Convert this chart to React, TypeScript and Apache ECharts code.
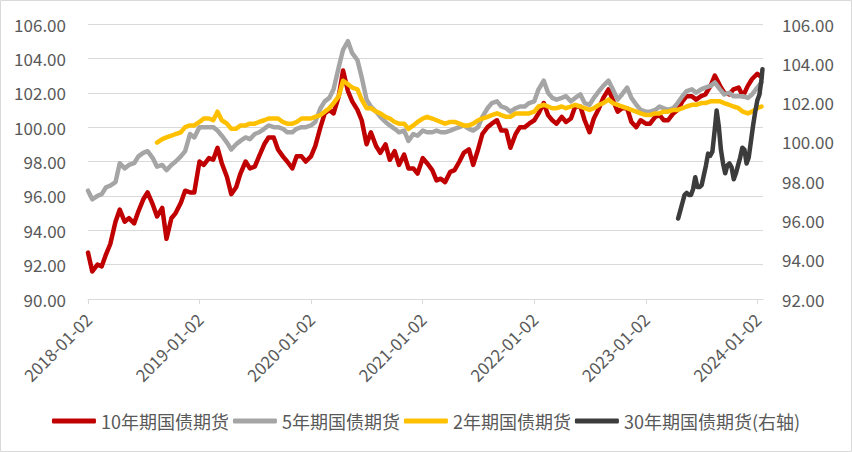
import React, { useEffect, useRef } from "react";
import * as echarts from "echarts";

// Half-monthly observation dates (2nd and 16th of each month), 2018-01 .. 2024-01
const DATES: string[] = (() => {
  const out: string[] = [];
  for (let y = 2018; y <= 2024; y++) {
    for (let m = 1; m <= 12; m++) {
      if (y === 2024 && m > 1) break;
      const mm = String(m).padStart(2, "0");
      out.push(`${y}-${mm}-02`, `${y}-${mm}-16`);
    }
  }
  return out;
})();

const T10: (number | null)[] = [
  92.7, 91.6, 92.0, 91.9, 92.6, 93.2, 94.5, 95.2, 94.5, 94.7, 94.4, 95.1, 95.8, 96.2, 95.5, 94.8, 95.3, 93.5, 94.7, 95.0, 95.6, 96.3, 96.2, 96.2,
  98.0, 97.8, 98.2, 98.1, 98.8, 97.9, 97.1, 96.1, 96.5, 97.3, 98.0, 97.6, 97.7, 98.3, 99.0, 99.4, 99.4, 98.7, 98.3, 98.0, 97.6, 98.3, 98.3, 98.0,
  98.3, 98.9, 100.0, 100.8, 101.0, 100.8, 101.8, 103.3, 102.1, 101.5, 101.0, 100.4, 99.0, 99.7, 98.9, 98.5, 99.0, 98.1, 98.6, 97.8, 98.4, 97.6, 97.6, 97.3,
  98.2, 97.9, 97.5, 96.9, 97.0, 96.8, 97.4, 97.5, 98.0, 98.5, 98.7, 97.8, 98.7, 99.6, 100.0, 100.2, 100.4, 99.8, 99.8, 98.8, 99.6, 100.0, 100.0, 100.2,
  100.4, 100.8, 101.4, 100.7, 100.4, 100.2, 100.6, 100.3, 100.5, 101.2, 101.2, 100.4, 99.7, 100.5, 101.1, 101.7, 102.2, 101.6, 100.9, 101.1, 101.1, 100.3, 100.0, 100.4,
  100.2, 100.2, 100.6, 100.7, 100.4, 100.4, 100.8, 101.0, 101.5, 101.8, 101.8, 101.6, 101.8, 101.9, 102.4, 103.0, 102.4, 102.0, 101.9, 102.2, 102.3, 101.8, 102.4, 102.8,
  103.1, 102.9,
];

const T5: (number | null)[] = [
  96.3, 95.8, 96.0, 96.1, 96.5, 96.6, 96.8, 97.9, 97.6, 97.8, 97.9, 98.3, 98.5, 98.6, 98.2, 97.7, 97.8, 97.5, 97.8, 98.0, 98.3, 98.6, 99.6, 99.4,
  100.0, 100.0, 100.0, 100.0, 99.8, 99.5, 99.1, 98.7, 99.0, 99.2, 99.4, 99.3, 99.6, 99.7, 99.9, 100.1, 100.0, 100.0, 99.9, 99.7, 99.7, 99.9, 100.0, 100.0,
  100.1, 100.3, 101.1, 101.5, 101.7, 102.2, 103.5, 104.5, 105.0, 104.3, 103.9, 102.9, 101.6, 101.2, 100.9, 100.6, 100.3, 100.1, 99.9, 99.7, 99.8, 99.2, 99.6, 99.5,
  99.8, 99.7, 99.7, 99.8, 99.7, 99.7, 99.8, 99.9, 100.0, 100.1, 99.9, 99.8, 100.0, 100.6, 101.1, 101.4, 101.5, 101.2, 101.1, 100.9, 101.1, 101.2, 101.2, 101.4,
  101.5, 102.2, 102.7, 102.0, 101.7, 101.6, 101.7, 101.8, 101.5, 101.7, 101.9, 101.4, 101.3, 101.7, 102.1, 102.4, 102.7, 102.2, 101.6, 101.9, 102.3, 101.7, 101.3, 101.0,
  100.9, 100.9, 101.0, 101.2, 101.1, 101.0, 101.1, 101.4, 101.8, 102.1, 102.2, 102.0, 102.2, 102.3, 102.4, 102.6, 102.2, 101.9, 102.0, 101.8, 101.8, 101.8, 101.7, 101.9,
  102.3, 102.6,
];

const T2: (number | null)[] = [
  null, null, null, null, null, null, null, null, null, null, null, null, null, null, null, 99.1, 99.3, 99.4, 99.5, 99.6, 99.7, 100.0, 100.1, 100.1,
  100.3, 100.5, 100.5, 100.4, 100.9, 100.4, 100.2, 99.9, 99.9, 100.1, 100.1, 100.2, 100.2, 100.3, 100.4, 100.5, 100.5, 100.5, 100.3, 100.2, 100.2, 100.3, 100.5, 100.5,
  100.5, 100.6, 100.7, 100.9, 101.1, 101.4, 101.8, 102.7, 102.5, 102.3, 102.2, 101.6, 101.1, 101.1, 100.9, 100.8, 100.6, 100.5, 100.3, 100.2, 100.2, 99.9, 100.1, 100.3,
  100.5, 100.6, 100.5, 100.4, 100.3, 100.2, 100.3, 100.3, 100.2, 100.1, 100.1, 100.2, 100.4, 100.5, 100.6, 100.7, 100.8, 100.7, 100.6, 100.6, 100.8, 100.8, 100.8, 100.8,
  100.9, 101.2, 101.3, 101.2, 101.1, 101.1, 101.2, 101.1, 101.2, 101.3, 101.2, 101.1, 101.0, 101.1, 101.3, 101.4, 101.6, 101.4, 101.3, 101.2, 101.1, 101.0, 100.9, 100.8,
  100.7, 100.7, 100.8, 100.8, 100.9, 100.9, 101.0, 101.0, 101.1, 101.2, 101.3, 101.3, 101.4, 101.4, 101.5, 101.5, 101.5, 101.4, 101.3, 101.2, 101.1, 100.9, 100.8, 100.9,
  101.1, 101.2,
];

// 30-year contract (right axis), weekly observations
const T30_DATES: string[] = [
  "2023-04-18", "2023-04-25", "2023-05-02", "2023-05-09", "2023-05-16", "2023-05-23", "2023-05-30",
  "2023-06-06", "2023-06-13", "2023-06-20", "2023-06-27", "2023-07-04", "2023-07-11", "2023-07-18",
  "2023-07-25", "2023-08-01", "2023-08-08", "2023-08-15", "2023-08-22", "2023-08-29", "2023-09-05",
  "2023-09-12", "2023-09-19", "2023-09-26", "2023-10-03", "2023-10-10", "2023-10-17", "2023-10-24",
  "2023-10-31", "2023-11-07", "2023-11-14", "2023-11-21", "2023-11-28", "2023-12-05", "2023-12-12",
  "2023-12-19", "2023-12-26", "2024-01-02", "2024-01-09", "2024-01-16", "2024-01-19",
];
const T30: number[] = [
  96.1, 96.5, 96.9, 97.3, 97.4, 97.3, 97.3,
  97.6, 98.2, 97.7, 97.7, 97.8, 98.3, 98.8,
  99.4, 99.3, 99.5, 100.5, 101.6, 100.8, 99.6,
  98.9, 98.4, 98.8, 98.9, 98.7, 98.1, 98.4,
  98.8, 99.2, 99.7, 99.6, 98.9, 99.2, 100.0,
  100.8, 101.5, 102.1, 102.4, 103.2, 103.7,
];

const X_TICKS = [2018, 2019, 2020, 2021, 2022, 2023, 2024];
const NAMES = ["10年期国债期货", "5年期国债期货", "2年期国债期货", "30年期国债期货(右轴)"];
const COLORS = ["#C00000", "#A5A5A5", "#FFC000", "#3C3C3C"];

const BASE = Date.UTC(2018, 0, 2);
function toYear(d: string): number {
  const [y, m, day] = d.split("-").map(Number);
  return 2018 + (Date.UTC(y, m - 1, day) - BASE) / (365.25 * 86400000);
}

function pairs(dates: string[], vals: (number | null)[]) {
  const out: [number, number][] = [];
  dates.forEach((d, i) => {
    const v = vals[i];
    if (v !== null && v !== undefined) out.push([toYear(d), v]);
  });
  return out;
}

const FONT = "'Noto Sans CJK SC', 'Noto Sans', sans-serif";

export default function App() {
  const ref = useRef<HTMLDivElement>(null);
  useEffect(() => {
    if (!ref.current) return;
    const chart = echarts.init(ref.current, undefined, { renderer: "svg" });
    const lineSeries = (i: number, data: [number, number][], yAxisIndex = 0) => ({
      name: NAMES[i],
      type: "line",
      yAxisIndex,
      data,
      showSymbol: false,
      symbol: "none",
      smooth: false,
      lineStyle: { color: COLORS[i], width: 4.5, cap: "round", join: "round" },
      itemStyle: { color: COLORS[i] },
      z: 2 + i,
    });
    chart.setOption({
      animation: false,
      backgroundColor: "#ffffff",
      textStyle: { fontFamily: FONT },
      grid: { left: 88, right: 89, top: 24, bottom: 153, containLabel: false },
      graphic: [
        {
          type: "rect",
          shape: { x: 0.5, y: 0.5, width: 851, height: 451 },
          style: { fill: "none", stroke: "#d9d9d9", lineWidth: 1 },
          silent: true,
        },
      ],
      legend: {
        data: NAMES,
        left: "center",
        top: 407,
        icon: "roundRect",
        itemWidth: 44,
        itemHeight: 5,
        itemGap: 4,
        textStyle: { color: "#595959", fontSize: 18, fontFamily: FONT },
      },
      xAxis: {
        type: "value",
        min: 2018,
        max: 2024.05,
        interval: 1,
        axisLine: { show: true, lineStyle: { color: "#d9d9d9", width: 1 } },
        axisTick: { show: true, length: 5, lineStyle: { color: "#d9d9d9" }, customValues: X_TICKS },
        splitLine: { show: false },
        axisLabel: {
          customValues: X_TICKS,
          rotate: 45,
          margin: 17,
          color: "#595959",
          fontSize: 17,
          fontFamily: FONT,
          formatter: (v: number) => `${Math.round(v)}-01-02`,
        },
      },
      yAxis: [
        {
          type: "value",
          min: 90,
          max: 106,
          interval: 2,
          axisLine: { show: false },
          axisTick: { show: false },
          splitLine: { show: true, lineStyle: { color: "#d9d9d9", width: 1 } },
          axisLabel: {
            margin: 22,
            color: "#595959",
            fontSize: 17,
            fontFamily: FONT,
            formatter: (v: number) => v.toFixed(2),
          },
        },
        {
          type: "value",
          position: "right",
          min: 92,
          max: 106,
          interval: 2,
          axisLine: { show: false },
          axisTick: { show: false },
          splitLine: { show: false },
          axisLabel: {
            margin: 19,
            color: "#595959",
            fontSize: 17,
            fontFamily: FONT,
            formatter: (v: number) => v.toFixed(2),
          },
        },
      ],
      series: [
        lineSeries(0, pairs(DATES, T10)),
        lineSeries(1, pairs(DATES, T5)),
        lineSeries(2, pairs(DATES, T2)),
        lineSeries(3, pairs(T30_DATES, T30), 1),
      ],
    });
    return () => chart.dispose();
  }, []);
  return (
    <div
      ref={ref}
      style={{ position: "fixed", left: 0, top: 0, width: 852, height: 452, background: "#fff" }}
    />
  );
}
